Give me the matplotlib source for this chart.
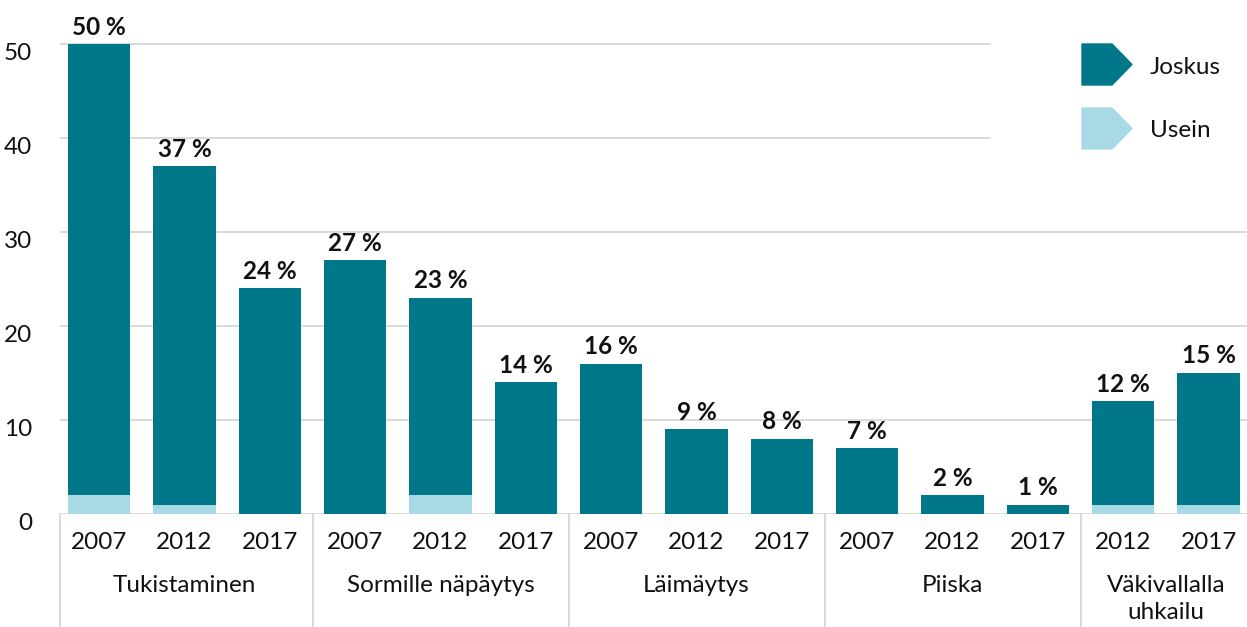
import matplotlib
matplotlib.use("Agg")
import matplotlib.pyplot as plt
import matplotlib.transforms as mtransforms
from matplotlib.patches import Polygon
import numpy as np

plt.rcParams['font.family'] = ['Lato', 'DejaVu Sans']

# data
years = ["2007", "2012", "2017", "2007", "2012", "2017", "2007", "2012", "2017",
         "2007", "2012", "2017", "2012", "2017"]
totals = [50, 37, 24, 27, 23, 14, 16, 9, 8, 7, 2, 1, 12, 15]
usein = [2, 1, 0, 0, 2, 0, 0, 0, 0, 0, 0, 0, 1, 1]
joskus = [t - u for t, u in zip(totals, usein)]
groups = ["Tukistaminen", "Sormille näpäytys", "Läimäytys", "Piiska", "Väkivallalla\nuhkailu"]
group_sizes = [3, 3, 3, 3, 2]
series_names = ["Joskus", "Usein"]

DARK = "#007889"
LIGHT = "#a8dae6"
GRID = "#d9d9d3"
TXT = "#111111"
FS = 17.5

W, H = 1247, 627
fig = plt.figure(figsize=(W / 100, H / 100), dpi=100)
ax = fig.add_axes([60 / W, (H - 514) / H, (W - 60) / W, 514 / H])

x = np.arange(len(totals))
ax.set_xlim(-0.46, 13.45)
ax.set_ylim(0, 54.7)

# grid lines (upper ones stop before the legend)
yticks = [0, 10, 20, 30, 40, 50]
for yt in yticks:
    xmax = (990 - 60) / (W - 60) if yt >= 40 else 1
    ax.axhline(yt, xmin=0, xmax=xmax, color=GRID, lw=1.3, zorder=0)

ax.bar(x, usein, width=0.73, color=LIGHT, zorder=2)
ax.bar(x, joskus, width=0.73, bottom=usein, color=DARK, zorder=2)

for xi, t in zip(x, totals):
    ax.annotate(f"{t} %", (xi, t), xytext=(0, 4), textcoords="offset points",
                ha="center", va="bottom", fontsize=FS, fontweight="bold", color=TXT)

for s in ax.spines.values():
    s.set_visible(False)

ax.set_yticks(yticks)
ax.set_yticklabels([str(v) for v in yticks], fontsize=FS, color=TXT)
ax.tick_params(axis="y", length=0, pad=20)
offset = mtransforms.ScaledTranslation(0, -7 / 100, fig.dpi_scale_trans)
for lab in ax.get_yticklabels():
    lab.set_transform(lab.get_transform() + offset)

ax.set_xticks(x)
ax.set_xticklabels(years, fontsize=FS, color=TXT)
ax.tick_params(axis="x", length=0, pad=13)

# group separators and labels
trans = mtransforms.blended_transform_factory(ax.transData, ax.transAxes)
start = 0
bounds = [-0.46]
for g, n in zip(groups, group_sizes):
    center = start + (n - 1) / 2
    ax.text(center, -0.118, g, transform=trans, ha="center", va="top",
            fontsize=FS, color=TXT, linespacing=1.35)
    start += n
    if start < len(totals):
        bounds.append(start - 0.5)
for b in bounds:
    ax.plot([b, b], [0, -0.23], transform=trans, color=GRID, lw=1.3, clip_on=False)

# legend with arrow-shaped markers
def pentagon(px, py, w=50, h=41, tip=20):
    pts = [(px, py), (px + w - tip, py), (px + w, py + h / 2),
           (px + w - tip, py + h), (px, py + h)]
    return [(a / W, 1 - b / H) for a, b in pts]

for (name, col, top) in zip(series_names, [DARK, LIGHT], [44, 108]):
    fig.patches.append(Polygon(pentagon(1082, top), closed=True, color=col,
                               transform=fig.transFigure, figure=fig))
    fig.text(1150 / W, 1 - (top + 23) / H, name, ha="left", va="center",
             fontsize=FS, color=TXT)

fig.savefig("out.png", dpi=100)
